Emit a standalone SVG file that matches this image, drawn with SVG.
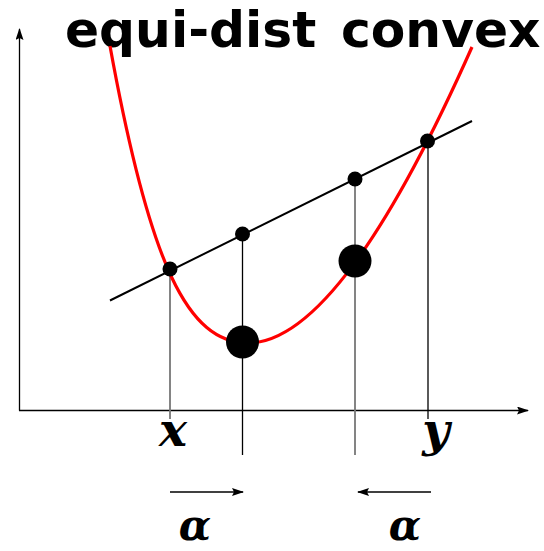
<svg xmlns="http://www.w3.org/2000/svg" width="544" height="551" viewBox="0 0 544 551">
<style>
.axis{stroke:#000;stroke-width:1.3;fill:none}
.vk{stroke:#000;stroke-width:1.3}
.vg{stroke:#777;stroke-width:1.8}
.title{font-family:"DejaVu Sans",sans-serif;font-weight:bold;font-size:50.3px;fill:#000}
.math{font-family:"DejaVu Serif",serif;font-weight:bold;font-style:italic;font-size:47px;fill:#000;text-anchor:middle}
.greek{font-family:"DejaVu Serif",serif;font-weight:bold;font-style:italic;font-size:42px;fill:#000;text-anchor:middle}
.dot{fill:#000}
</style>
<defs>
<marker id="ah" markerWidth="12" markerHeight="8" refX="11" refY="4" orient="auto" markerUnits="userSpaceOnUse">
<path d="M0,0 L12,4 L0,8 L2,4 Z" fill="#000"/>
</marker>
</defs>
<rect width="544" height="551" fill="#fff"/>
<g id="axes">
<line class="axis" x1="19.5" y1="410.5" x2="19.5" y2="29" marker-end="url(#ah)"/>
<line class="axis" x1="19" y1="410.5" x2="528" y2="410.5" marker-end="url(#ah)"/>
</g>
<g id="title">
<text class="title" x="65" y="47">equi-dist</text>
<text class="title" x="341" y="47">convex</text>
</g>
<g id="connectors">
<line class="vg" x1="170" y1="269" x2="170" y2="419"/>
<line class="vk" x1="242.5" y1="234" x2="242.5" y2="455"/>
<line class="vg" x1="355" y1="179" x2="355" y2="455"/>
<line class="vk" x1="428" y1="141" x2="428" y2="419"/>
<line x1="110" y1="300.5" x2="472" y2="121" stroke="#000" stroke-width="2"/>
<line class="axis" x1="170" y1="492" x2="243" y2="492" marker-end="url(#ah)"/>
<line class="axis" x1="431" y1="492" x2="358" y2="492" marker-end="url(#ah)"/>
</g>
<g id="curve">
<path d="M110,46 C150,266 188,343 248,343 C308,343 382,249.5 472,47" fill="none" stroke="#f00" stroke-width="3.2"/>
</g>
<g id="points">
<circle class="dot" cx="170" cy="269" r="7.5"/>
<circle class="dot" cx="242.5" cy="234" r="7.5"/>
<circle class="dot" cx="355" cy="179" r="7.5"/>
<circle class="dot" cx="427.5" cy="141" r="7.5"/>
<circle class="dot" cx="242.5" cy="342" r="16.5"/>
<circle class="dot" cx="355" cy="261" r="16.5"/>
</g>
<g id="labels">
<text class="math" x="173" y="446">x</text>
<text class="math" x="436" y="446">y</text>
<text class="greek" x="195" y="540">α</text>
<text class="greek" x="405" y="540">α</text>
</g>
</svg>
